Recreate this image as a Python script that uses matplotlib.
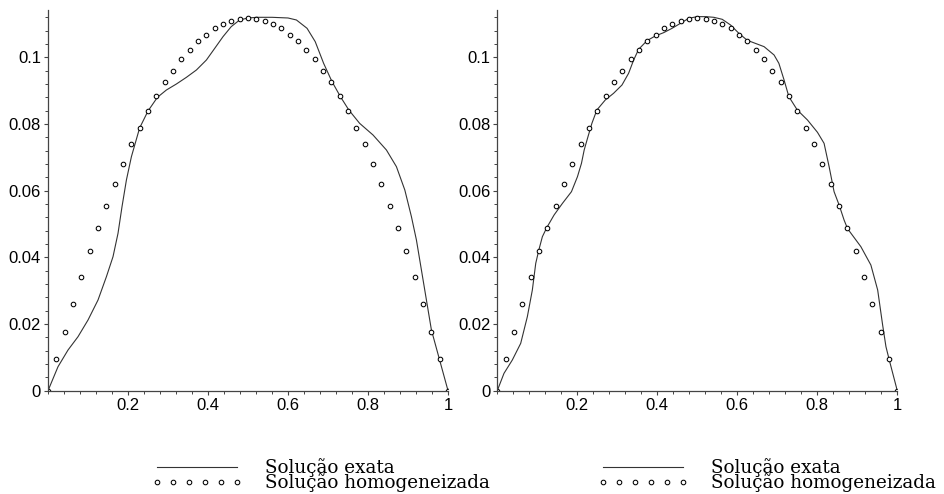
import numpy as np
import matplotlib
matplotlib.use("Agg")
import matplotlib.pyplot as plt
from matplotlib.ticker import MultipleLocator, FixedLocator

# ------------------------------------------------------------
# data
# ------------------------------------------------------------
# homogenized solution, sampled at x = k/48 (same in both panels)
x_hom = [k / 48 for k in range(49)]
y_hom = [0.0, 0.0095, 0.0175, 0.026, 0.0342, 0.042, 0.0488, 0.0555, 0.062,
         0.0681, 0.074, 0.0788, 0.0838, 0.0884, 0.0925, 0.0959, 0.0994,
         0.1021, 0.1048, 0.1068, 0.1087, 0.1099, 0.111, 0.1115, 0.1117,
         0.1115, 0.111, 0.1099, 0.1087, 0.1068, 0.1048, 0.1021, 0.0994,
         0.0959, 0.0925, 0.0884, 0.0838, 0.0788, 0.074, 0.0681, 0.062,
         0.0555, 0.0488, 0.042, 0.0342, 0.026, 0.0175, 0.0095, 0.0]

# exact solution, left panel
x_ex1 = [0.0, 0.025, 0.05, 0.075, 0.1, 0.125, 0.146, 0.1625, 0.175, 0.185,
         0.196, 0.2085, 0.229, 0.25, 0.2735, 0.296, 0.321, 0.346, 0.371,
         0.396, 0.4168, 0.4375, 0.458, 0.479, 0.5, 0.5225, 0.56, 0.6, 0.621,
         0.6476, 0.668, 0.689, 0.71, 0.731, 0.752, 0.779, 0.8125, 0.846,
         0.871, 0.892, 0.9085, 0.921, 0.9335, 0.946, 0.9585, 0.979, 1.0]
y_ex1 = [0.0, 0.0072, 0.0122, 0.0162, 0.0212, 0.0272, 0.0342, 0.0402, 0.0472,
         0.0552, 0.0632, 0.0702, 0.0788, 0.0839, 0.088, 0.0902, 0.092, 0.094,
         0.0962, 0.0992, 0.1027, 0.1062, 0.1092, 0.1112, 0.1118, 0.112,
         0.112, 0.1118, 0.1112, 0.1087, 0.1047, 0.0982, 0.0927, 0.0882,
         0.0842, 0.0802, 0.0767, 0.0722, 0.0672, 0.0602, 0.0522, 0.0452,
         0.0362, 0.0272, 0.0182, 0.0092, 0.0]

# exact solution, right panel
x_ex2 = [0.0, 0.0168, 0.0376, 0.0586, 0.0752, 0.0877, 0.0962, 0.1037, 0.1128,
         0.1237, 0.142, 0.163, 0.1855, 0.2005, 0.2105, 0.2173, 0.2256, 0.2366,
         0.249, 0.27, 0.2907, 0.3118, 0.3283, 0.341, 0.3534, 0.3744, 0.395,
         0.416, 0.437, 0.458, 0.4787, 0.4997, 0.5206, 0.5414, 0.5624, 0.5832,
         0.604, 0.625, 0.667, 0.692, 0.704, 0.717, 0.729, 0.75, 0.7755,
         0.8005, 0.817, 0.8296, 0.842, 0.8546, 0.867, 0.8757, 0.909, 0.934,
         0.951, 0.9634, 0.9717, 0.98, 1.0]
y_ex2 = [0.0, 0.0052, 0.0092, 0.0142, 0.0222, 0.0302, 0.0382, 0.0421, 0.0462,
         0.0489, 0.0527, 0.0562, 0.0597, 0.0642, 0.0682, 0.0722, 0.0757,
         0.0802, 0.0842, 0.0872, 0.0892, 0.0917, 0.0952, 0.0992, 0.1024,
         0.105, 0.1064, 0.1074, 0.1087, 0.1102, 0.1117, 0.1122, 0.1122, 0.112,
         0.1114, 0.1097, 0.1072, 0.1051, 0.1032, 0.1007, 0.0982, 0.0932,
         0.0882, 0.0842, 0.0812, 0.0775, 0.0742, 0.0672, 0.0597, 0.0557,
         0.0512, 0.0486, 0.0432, 0.0377, 0.0302, 0.0197, 0.0132, 0.0092, 0.0]

x_ticks = [0.2, 0.4, 0.6, 0.8, 1.0]
x_labels = ["0.2", "0.4", "0.6", "0.8", "1"]
y_ticks = [0.0, 0.02, 0.04, 0.06, 0.08, 0.1]
y_labels = ["0", "0.02", "0.04", "0.06", "0.08", "0.1"]

labels = ["Solução exata", "Solução homogeneizada"]

# ------------------------------------------------------------
fig = plt.figure(figsize=(9.45, 4.94), dpi=100)
tick_font = "Liberation Sans"
leg_font = "DejaVu Serif"
axcol = "#444444"

panels = [(0.0508, x_ex1, y_ex1, 0.160),
          (0.5262, x_ex2, y_ex2, 0.632)]

for left, xe, ye, legx in panels:
    ax = fig.add_axes([left, 0.2091, 0.4233, 0.7707])
    l1, = ax.plot(xe, ye, color="#333333", lw=0.8)
    l2, = ax.plot(x_hom, y_hom, ls="none", marker="o", ms=3.3,
                  mfc="white", mec="black", mew=0.75)
    ax.set_xlim(0, 1)
    ax.set_ylim(0, 0.1142)
    for s in ["top", "right"]:
        ax.spines[s].set_visible(False)
    for s in ["left", "bottom"]:
        ax.spines[s].set_color(axcol)
        ax.spines[s].set_linewidth(0.9)
    ax.xaxis.set_major_locator(FixedLocator(x_ticks))
    ax.set_xticklabels(x_labels)
    ax.xaxis.set_minor_locator(MultipleLocator(0.04))
    ax.yaxis.set_major_locator(FixedLocator(y_ticks))
    ax.set_yticklabels(y_labels)
    ax.yaxis.set_minor_locator(MultipleLocator(0.004))
    ax.tick_params(which="major", direction="out", length=3, width=0.8,
                   color=axcol, labelsize=12, pad=2)
    ax.tick_params(which="minor", direction="out", length=2, width=0.7,
                   color=axcol)
    for t in ax.get_xticklabels() + ax.get_yticklabels():
        t.set_fontfamily(tick_font)
    ax.patch.set_alpha(0)

    fig.legend([l1, l2], labels, loc="upper left",
               bbox_to_anchor=(legx, 0.072), frameon=False, numpoints=6,
               handlelength=5.0, handletextpad=1.2, labelspacing=-0.22,
               borderaxespad=0, borderpad=0,
               prop={"family": leg_font, "size": 13.2})

fig.savefig("out.png", dpi=100)
